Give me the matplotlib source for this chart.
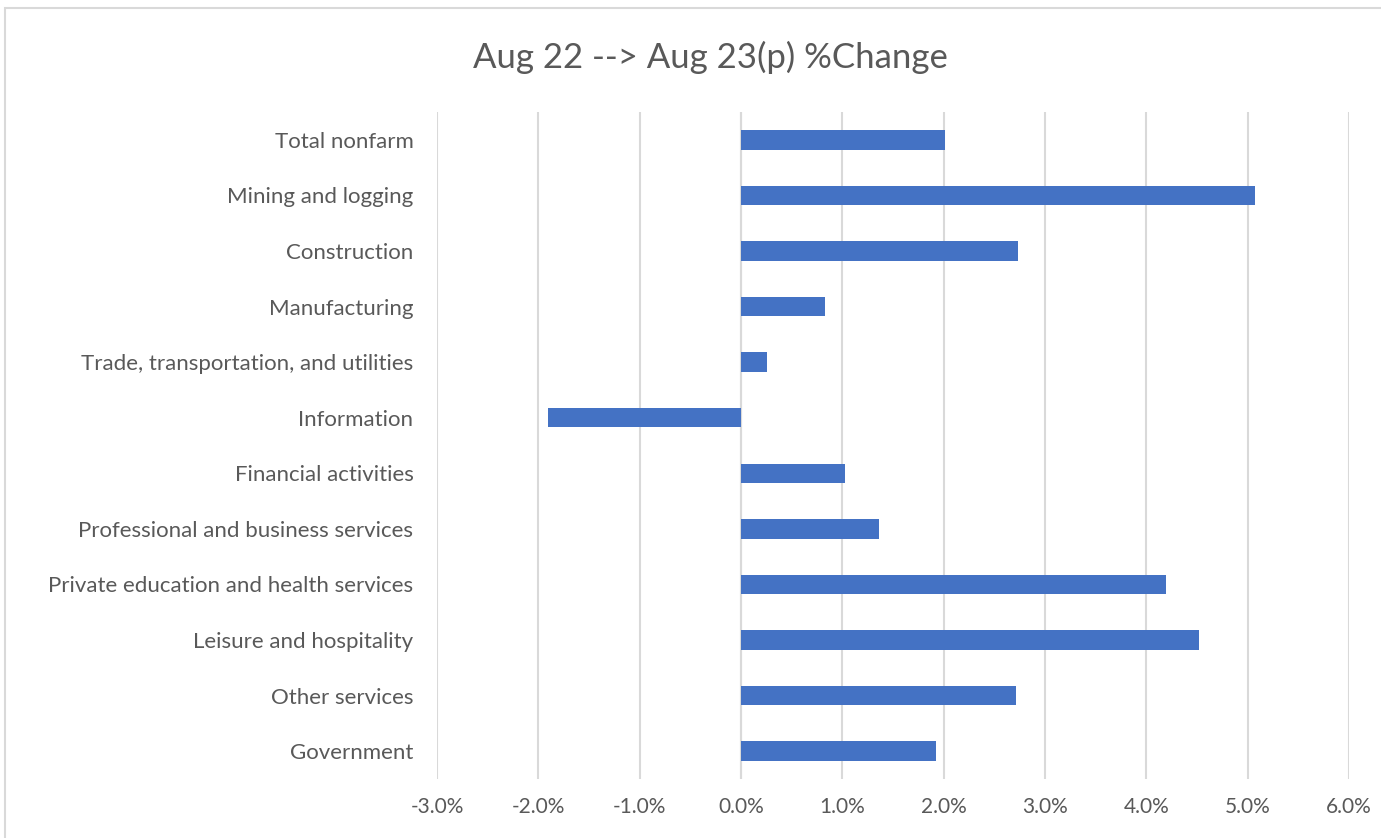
import matplotlib.pyplot as plt
from matplotlib.patches import Rectangle
from matplotlib.ticker import FuncFormatter, MultipleLocator

categories = [
    "Total nonfarm",
    "Mining and logging",
    "Construction",
    "Manufacturing",
    "Trade, transportation, and utilities",
    "Information",
    "Financial activities",
    "Professional and business services",
    "Private education and health services",
    "Leisure and hospitality",
    "Other services",
    "Government",
]
pct_change = [2.01, 5.07, 2.73, 0.83, 0.26, -1.90, 1.03, 1.36, 4.19, 4.52, 2.71, 1.92]

text_color = "#595959"
bar_color = "#4472C4"
grid_color = "#D9D9D9"

plt.rcParams["font.family"] = ["Lato", "DejaVu Sans"]

fig = plt.figure(figsize=(13.81, 8.38), dpi=100)
ax = fig.add_axes([437 / 1381, 1 - 779 / 838, (1349 - 437) / 1381, (779 - 112) / 838])

# light chart-area border like the Excel export
fig.patches.append(Rectangle((5 / 1381, -0.01), 1.02, 1 - 8 / 838 + 0.01,
                             transform=fig.transFigure, fill=False,
                             edgecolor="#D9D9D9", linewidth=1.5))

y = list(range(len(categories)))
ax.barh(y, [v / 100 for v in pct_change], height=0.35, color=bar_color, zorder=3)

ax.set_xlim(-0.03, 0.06)
ax.set_ylim(len(categories) - 0.5, -0.5)
ax.xaxis.set_major_locator(MultipleLocator(0.01))
ax.xaxis.set_major_formatter(FuncFormatter(lambda v, _: f"{v * 100:.1f}%"))
ax.set_yticks(y)
ax.set_yticklabels(categories)

ax.grid(axis="x", color=grid_color, linewidth=1.5, zorder=0)
ax.axvline(0, color=grid_color, linewidth=1.5, zorder=1)
for side in ax.spines.values():
    side.set_visible(False)
ax.tick_params(axis="both", length=0, colors=text_color)
ax.tick_params(axis="x", pad=13, labelsize=15)
ax.tick_params(axis="y", pad=17, labelsize=16)

fig.text(710 / 1381, 1 - 57 / 838, "Aug 22 --> Aug 23(p) %Change", ha="center", va="center",
         fontsize=25, color=text_color)

fig.savefig("out.png", dpi=100)
